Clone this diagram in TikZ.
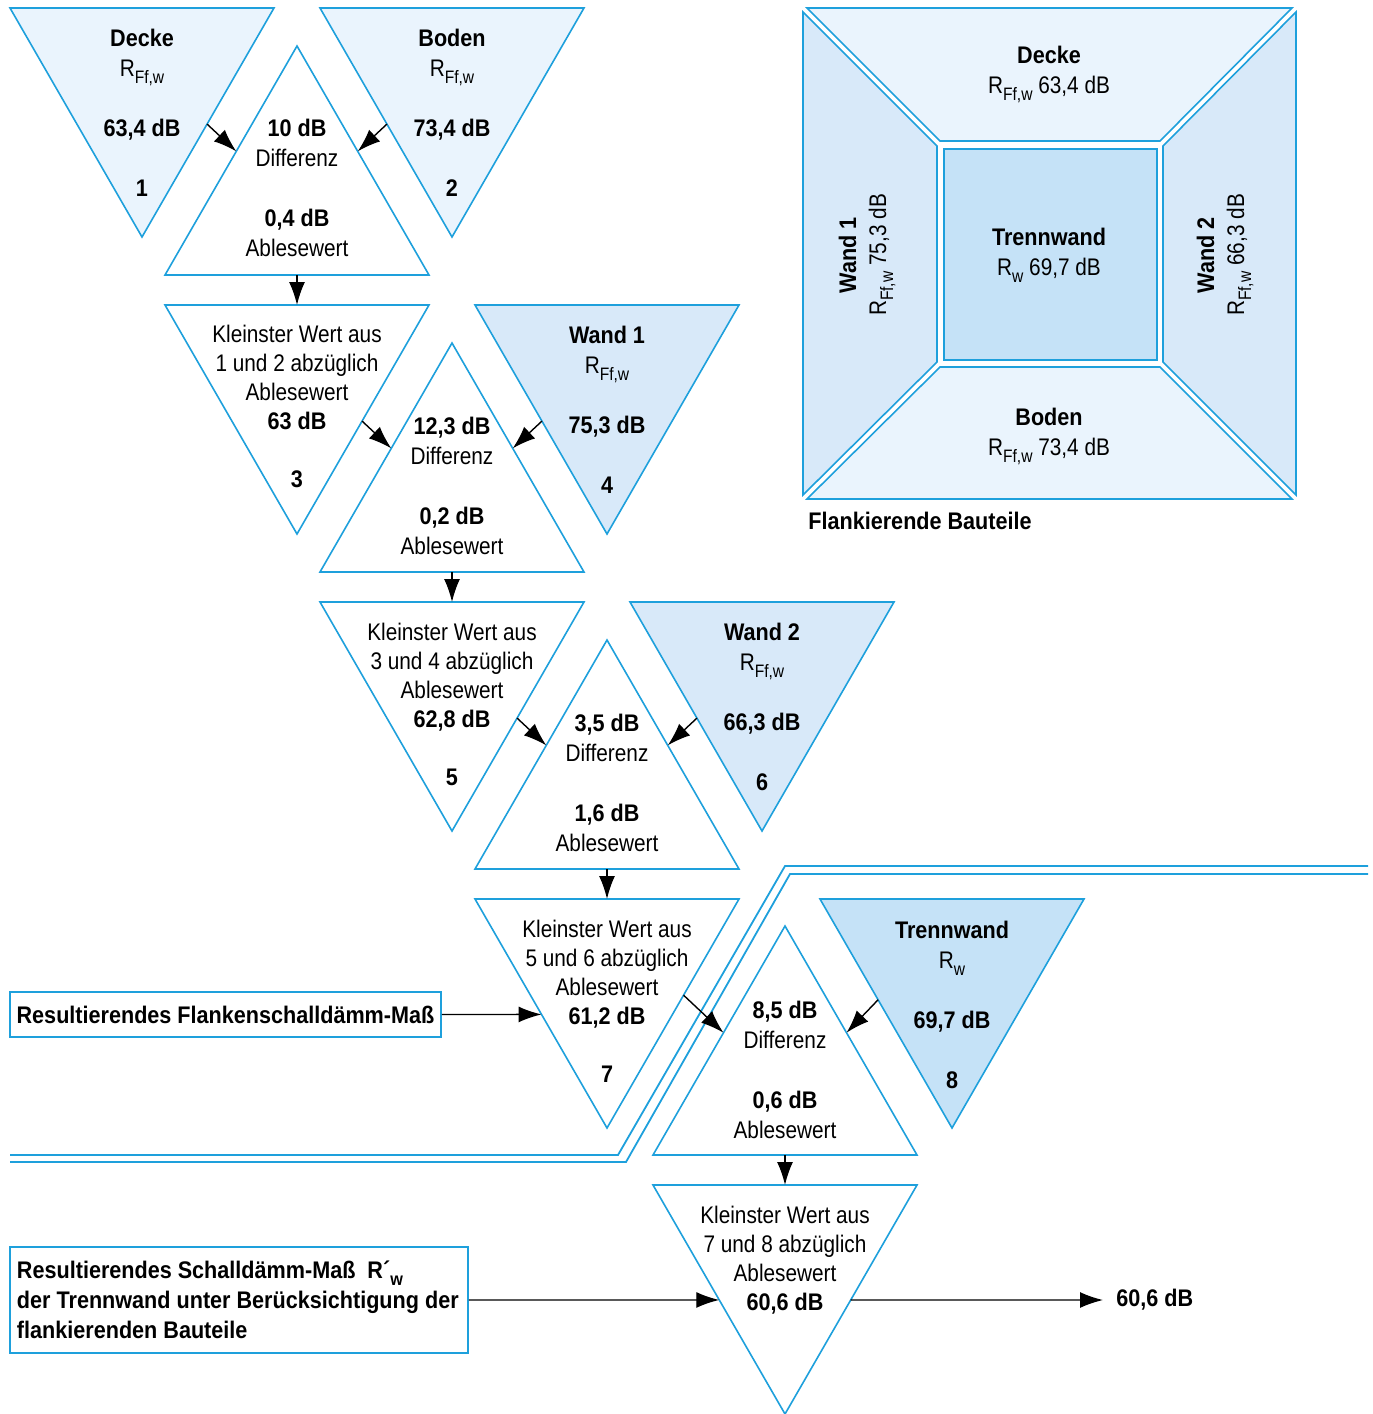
\documentclass[tikz,border=0pt]{standalone}
\usepackage{fontspec}
\setmainfont{Liberation Sans}[FakeStretch=0.866,BoldFeatures={FakeStretch=0.9}]
\usetikzlibrary{calc,arrows.meta}
\definecolor{baublau}{RGB}{30,160,220}
\definecolor{deckfill}{RGB}{234,244,253}
\definecolor{wandfill}{RGB}{216,233,249}
\definecolor{trennfill}{RGB}{197,226,247}
\newcommand{\idx}[1]{\raisebox{-3.5pt}{\fontsize{9}{9}\selectfont #1}}
\tikzset{
  tri/.style={draw=baublau,line width=0.8pt},
  bauline/.style={draw=baublau,line width=0.9pt},
  pfeil/.style={-{Latex[length=11.5pt,width=8pt]},line width=0.7pt},
  txt/.style={font=\fontsize{12}{15}\selectfont,align=center,anchor=north,inner sep=0pt},
  klein/.style={txt,font=\fontsize{12}{14.5}\selectfont},
  kasten/.style={draw=baublau,line width=0.9pt,font=\fontsize{12}{15}\selectfont\bfseries}
}
\begin{document}
\begin{tikzpicture}[x=0.5pt,y=-0.5pt]
\useasboundingbox (0,0) rectangle (1372,1414);
% double separating line
\draw[bauline] (1368,866) -- (785,866) -- (618,1155) -- (10,1155);
\draw[bauline] (1368,874) -- (790,874) -- (626,1162) -- (10,1162);
% down triangles: name/centre x/top y/fill
\foreach \n/\cx/\ty/\f in {D1/142/8/deckfill,D2/452/8/deckfill,D3/297/305/white,D4/607/305/wandfill,D5/452/602/white,D6/762/602/wandfill,D7/607/899/white,D8/952/899/trennfill,D9/785/1185/white}{
  \coordinate (\n-l) at (\cx-132,\ty);
  \coordinate (\n-r) at (\cx+132,\ty);
  \coordinate (\n-a) at (\cx,\ty+229);
  \draw[tri,fill=\f] (\n-l) -- (\n-r) -- (\n-a) -- cycle;
}
% up triangles: name/centre x/base y
\foreach \n/\cx/\by in {U1/297/275,U2/452/572,U3/607/869,U4/785/1155}{
  \coordinate (\n-l) at (\cx-132,\by);
  \coordinate (\n-r) at (\cx+132,\by);
  \coordinate (\n-a) at (\cx,\by-229);
  \draw[tri,fill=white] (\n-l) -- (\n-r) -- (\n-a) -- cycle;
}
% texts in triangles
\node[txt] (t1) at (142,28.5) {\textbf{Decke}\\R\idx{Ff,w}\\[15pt]\textbf{63,4 dB}\\[15pt]\textbf{1}};
\node[txt] (t2) at (452,28.5) {\textbf{Boden}\\R\idx{Ff,w}\\[15pt]\textbf{73,4 dB}\\[15pt]\textbf{2}};
\node[txt] (d1) at (297,118.5) {\textbf{10 dB}\\Differenz\\[15pt]\textbf{0,4 dB}\\Ablesewert};
\node[klein] (t3) at (297,324.5) {Kleinster Wert aus\\1 und 2 abzüglich\\Ablesewert\\\textbf{63 dB}\\[14.5pt]\textbf{3}};
\node[txt] (t4) at (607,325.5) {\textbf{Wand 1}\\R\idx{Ff,w}\\[15pt]\textbf{75,3 dB}\\[15pt]\textbf{4}};
\node[txt] (d2) at (452,416.5) {\textbf{12,3 dB}\\Differenz\\[15pt]\textbf{0,2 dB}\\Ablesewert};
\node[klein] (t5) at (452,622.5) {Kleinster Wert aus\\3 und 4 abzüglich\\Ablesewert\\\textbf{62,8 dB}\\[14.5pt]\textbf{5}};
\node[txt] (t6) at (762,622.5) {\textbf{Wand 2}\\R\idx{Ff,w}\\[15pt]\textbf{66,3 dB}\\[15pt]\textbf{6}};
\node[txt] (d3) at (607,713.5) {\textbf{3,5 dB}\\Differenz\\[15pt]\textbf{1,6 dB}\\Ablesewert};
\node[klein] (t7) at (607,919.5) {Kleinster Wert aus\\5 und 6 abzüglich\\Ablesewert\\\textbf{61,2 dB}\\[14.5pt]\textbf{7}};
\node[txt] (t8) at (952,920.5) {\textbf{Trennwand}\\R\idx{w}\\[15pt]\textbf{69,7 dB}\\[15pt]\textbf{8}};
\node[txt] (d4) at (785,1000.5) {\textbf{8,5 dB}\\Differenz\\[15pt]\textbf{0,6 dB}\\Ablesewert};
\node[klein] (t9) at (785,1205.5) {Kleinster Wert aus\\7 und 8 abzüglich\\Ablesewert\\\textbf{60,6 dB}};
% arrows between triangles
\foreach \d/\u in {D1/U1,D3/U2,D5/U3} \draw[pfeil] ($(\d-r)!0.507!(\d-a)$) -- ($(\u-a)!0.46!(\u-l)$);
\foreach \d/\u in {D2/U1,D4/U2,D6/U3} \draw[pfeil] ($(\d-l)!0.507!(\d-a)$) -- ($(\u-a)!0.46!(\u-r)$);
\draw[pfeil] ($(D7-r)!0.42!(D7-a)$) -- ($(U4-a)!0.466!(U4-l)$);
\draw[pfeil] ($(D8-l)!0.44!(D8-a)$) -- ($(U4-a)!0.466!(U4-r)$);
\foreach \u/\d in {U1/D3,U2/D5,U3/D7,U4/D9} \draw[pfeil] ($(\u-l)!0.5!(\u-r)$) -- ($(\d-l)!0.5!(\d-r)$);
% boxes on the left
\node[kasten,minimum width=215.5pt,minimum height=22.5pt] (flanke) at (225.5,1014.5) {Resultierendes Flankenschalldämm-Maß};
\node[kasten,text width=222pt,align=flush left,inner xsep=3.5pt,minimum height=53pt] (schall) at (239,1300) {Resultierendes Schalldämm-Maß\enspace R´\idx{w}\\der Trennwand unter Berücksichtigung der\\flankierenden Bauteile};
\node[anchor=west,inner sep=0pt,font=\fontsize{12}{15}\selectfont\bfseries] (erg) at (1116,1300) {60,6 dB};
\draw[pfeil] (flanke.east) -- ($(D7-l)!0.504!(D7-a)$);
\draw[pfeil] (schall.east) -- ($(D9-l)!0.502!(D9-a)$);
\draw[pfeil] ($(D9-r)!0.502!(D9-a)$) -- ([xshift=-6.5pt]erg.west);
% flanking components panel
\draw[tri,fill=deckfill] (807,8) -- (1292,8) -- (1160,141) -- (940,141) -- cycle;
\draw[tri,fill=wandfill] (803,12) -- (937,146) -- (937,362) -- (803,495) -- cycle;
\draw[tri,fill=deckfill] (940,367) -- (1160,367) -- (1292,499) -- (807,499) -- cycle;
\draw[tri,fill=wandfill] (1296,12) -- (1163,146) -- (1163,362) -- (1296,495) -- cycle;
\draw[tri,fill=trennfill] (944,149) rectangle (1157,360);
\node[txt] (pd) at (1049,45.5) {\textbf{Decke}\\R\idx{Ff,w} 63,4 dB};
\node[txt] (pt) at (1049,227.5) {\textbf{Trennwand}\\R\idx{w} 69,7 dB};
\node[txt] (pb) at (1049,407.5) {\textbf{Boden}\\R\idx{Ff,w} 73,4 dB};
\node[txt,anchor=center,rotate=90] (pw1) at (867,255) {\textbf{Wand 1}\\R\idx{Ff,w} 75,3 dB};
\node[txt,anchor=center,rotate=90] (pw2) at (1225,255) {\textbf{Wand 2}\\R\idx{Ff,w} 66,3 dB};
\node[anchor=west,inner sep=0pt,font=\fontsize{12}{15}\selectfont\bfseries] (fb) at (808,521) {Flankierende Bauteile};
\end{tikzpicture}
\end{document}
